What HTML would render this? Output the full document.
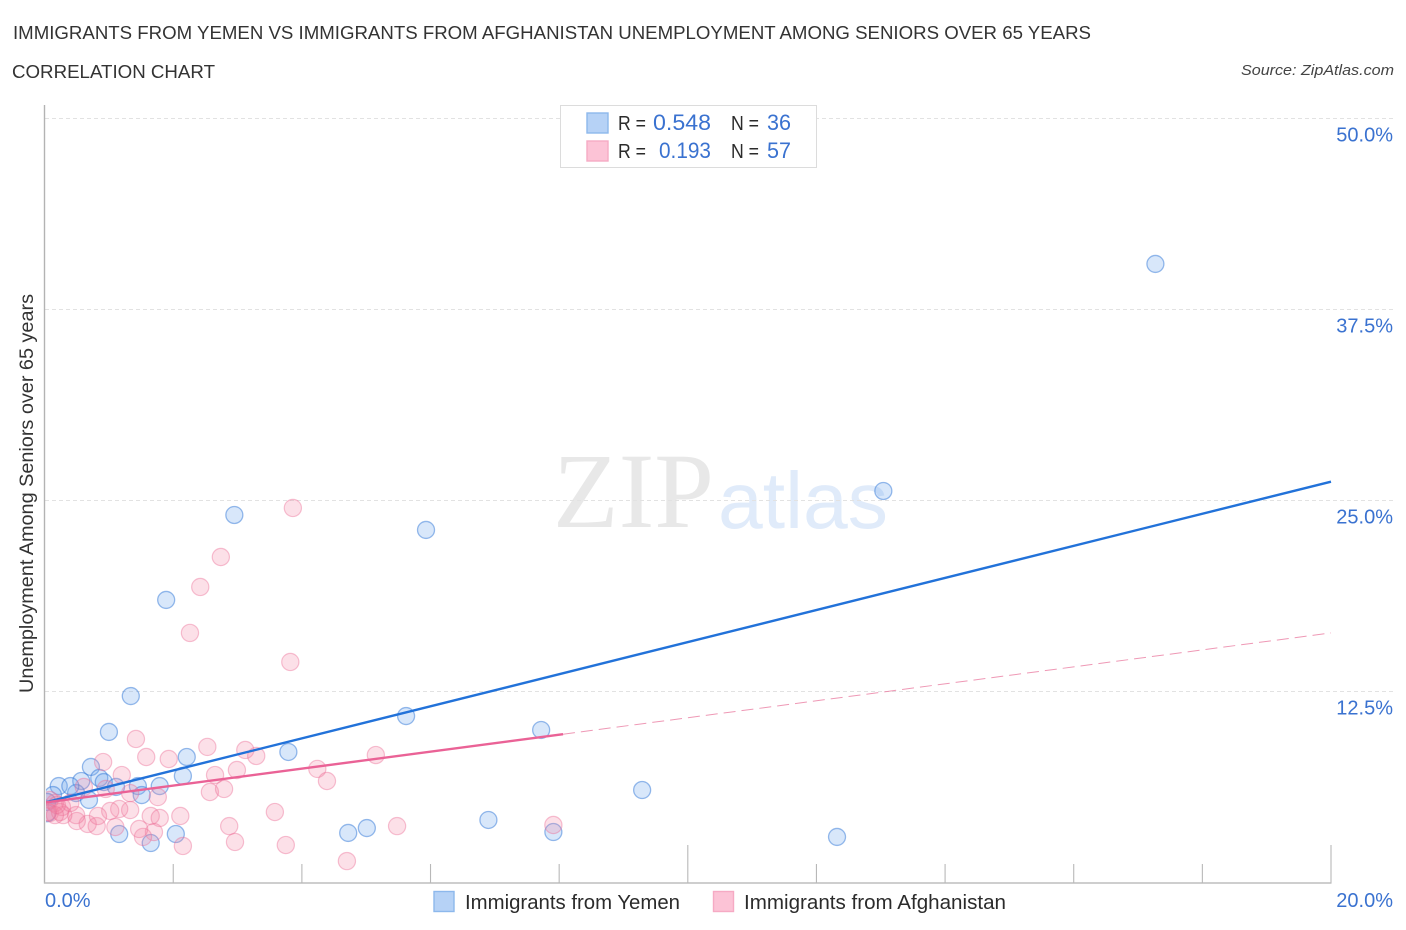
<!DOCTYPE html>
<html lang="en">
<head>
<meta charset="utf-8">
<title>Immigrants from Yemen vs Immigrants from Afghanistan Correlation Chart</title>
<style>
html,body{margin:0;padding:0;background:#fff;width:1406px;height:930px;overflow:hidden}
svg{display:block}
text{font-family:"Liberation Sans",sans-serif}
</style>
</head>
<body>
<svg id="chart" width="1406" height="930" viewBox="0 0 1406 930" xmlns="http://www.w3.org/2000/svg">
  <defs>
    <clipPath id="plot-clip"><rect x="46" y="100" width="1300" height="783"/></clipPath>
  </defs>
  <text x="13" y="39" font-size="18.5" fill="#333" textLength="1078" lengthAdjust="spacingAndGlyphs">IMMIGRANTS FROM YEMEN VS IMMIGRANTS FROM AFGHANISTAN UNEMPLOYMENT AMONG SENIORS OVER 65 YEARS</text>
  <text x="12" y="78" font-size="18.5" fill="#333" textLength="203" lengthAdjust="spacingAndGlyphs">CORRELATION CHART</text>
  <text x="1394" y="75" font-size="15" font-style="italic" fill="#444" text-anchor="end" textLength="153" lengthAdjust="spacingAndGlyphs">Source: ZipAtlas.com</text>

  <g id="watermark">
    <text x="553" y="527" font-size="107" fill="#e8e8e8" style="font-family:'Liberation Serif',serif" textLength="161" lengthAdjust="spacingAndGlyphs">ZIP</text>
    <text x="718" y="528" font-size="80" fill="#e0ebfa" style="font-family:'Liberation Sans',sans-serif" textLength="170" lengthAdjust="spacingAndGlyphs">atlas</text>
  </g>

  <g id="grid"></g>
  <g id="axes"></g>
  <g id="points" clip-path="url(#plot-clip)"></g>
  <g id="trends" clip-path="url(#plot-clip)"></g>
  <g id="labels"></g>

  <text transform="translate(33,493.5) rotate(-90)" font-size="19.5" fill="#333" text-anchor="middle" textLength="399" lengthAdjust="spacingAndGlyphs">Unemployment Among Seniors over 65 years</text>

  <g>
    <rect x="560.5" y="105.5" width="256" height="62" fill="#fff" stroke="#dcdcdc"/>
    <rect x="587" y="113" width="21" height="20" fill="#b6d2f6" stroke="#8db8ec" stroke-width="1.4"/>
    <rect x="587" y="141" width="21" height="20" fill="#fcc3d6" stroke="#f6aac4" stroke-width="1.4"/>
    <text x="618" y="130" font-size="20" fill="#2b2b2b" textLength="28" lengthAdjust="spacingAndGlyphs">R =</text>
    <text x="711" y="130" font-size="22" fill="#3a72d0" text-anchor="end" textLength="58" lengthAdjust="spacingAndGlyphs">0.548</text>
    <text x="731" y="130" font-size="20" fill="#2b2b2b" textLength="28" lengthAdjust="spacingAndGlyphs">N =</text>
    <text x="791" y="130" font-size="22" fill="#3a72d0" text-anchor="end" textLength="24" lengthAdjust="spacingAndGlyphs">36</text>
    <text x="618" y="158" font-size="20" fill="#2b2b2b" textLength="28" lengthAdjust="spacingAndGlyphs">R =</text>
    <text x="711" y="158" font-size="22" fill="#3a72d0" text-anchor="end" textLength="52" lengthAdjust="spacingAndGlyphs">0.193</text>
    <text x="731" y="158" font-size="20" fill="#2b2b2b" textLength="28" lengthAdjust="spacingAndGlyphs">N =</text>
    <text x="791" y="158" font-size="22" fill="#3a72d0" text-anchor="end" textLength="24" lengthAdjust="spacingAndGlyphs">57</text>
  </g>

  <g>
    <rect x="434" y="891.5" width="20" height="20" fill="#b6d2f6" stroke="#8db8ec" stroke-width="1.4"/>
    <text x="465" y="909" font-size="20" fill="#2b2b2b" textLength="215" lengthAdjust="spacingAndGlyphs">Immigrants from Yemen</text>
    <rect x="713.5" y="891.5" width="20" height="20" fill="#fcc3d6" stroke="#f6aac4" stroke-width="1.4"/>
    <text x="744" y="909" font-size="20" fill="#2b2b2b" textLength="262" lengthAdjust="spacingAndGlyphs">Immigrants from Afghanistan</text>
  </g>
</svg>
<script>
var yemenX = [17.27,13.04,2.95,5.93,1.89,1.34,1.00,5.62,7.72,3.79,2.21,2.15,9.29,1.79,1.45,1.51,0.72,0.85,0.92,1.11,0.57,0.49,0.22,0.40,0.13,0.04,0.04,0.69,1.16,1.65,2.04,4.72,5.01,6.90,7.91,12.32];
var yemenY = [40.45,25.59,24.02,23.04,18.46,12.17,9.82,10.86,9.95,8.51,8.18,6.94,6.02,6.28,6.28,5.69,7.53,6.81,6.54,6.22,6.61,5.82,6.28,6.28,5.69,5.24,4.50,5.37,3.14,2.55,3.14,3.21,3.53,4.06,3.27,2.95];
var afghanX = [3.86,2.74,2.42,2.26,3.82,1.42,0.91,1.58,1.93,2.53,3.12,3.29,5.15,1.20,2.65,2.99,4.24,4.39,2.57,2.79,1.76,1.33,0.95,0.61,1.33,1.16,1.02,2.11,1.65,1.79,3.58,2.87,2.96,3.75,2.15,1.70,1.53,1.47,1.10,0.81,0.67,0.83,0.50,0.49,0.29,0.08,0.27,0.16,0.08,4.70,5.48,7.91,0.24,0.40,0.16,0.19,0.05];
var afghanY = [24.48,21.27,19.31,16.30,14.40,9.36,7.85,8.18,8.05,8.84,8.64,8.25,8.31,7.00,7.00,7.33,7.40,6.61,5.89,6.09,5.56,5.82,6.09,6.22,4.71,4.78,4.65,4.32,4.32,4.19,4.58,3.66,2.62,2.42,2.36,3.27,2.95,3.47,3.60,3.66,3.80,4.32,3.99,4.38,4.38,4.52,4.91,5.17,5.37,1.37,3.66,3.73,4.58,5.17,4.38,5.04,4.58];
var yemenTrend = [5.2, 26.2];
var afghanTrend = [5.2, 16.3];
var afghanSolidEnd = 8.06;
var yTicks = [12.5, 25, 37.5, 50];
var yTickLabels = ["12.5%", "25.0%", "37.5%", "50.0%"];
var xTicks = [2, 4, 6, 8, 10, 12, 14, 16, 18, 20];
var majorXTicks = [10, 20];
var xEndLabels = ["0.0%", "20.0%"];

var NS = 'http://www.w3.org/2000/svg';
function sx(v) { return 44.6 + v * 64.32; }
function sy(v) { return 882 - v * 15.28; }
function make(parent, tag, attrs) {
  var el = document.createElementNS(NS, tag);
  for (var k in attrs) el.setAttribute(k, attrs[k]);
  document.getElementById(parent).appendChild(el);
  return el;
}

yTicks.forEach(function (t, i) {
  var g = make('grid', 'line', {x1: 45, x2: 1393, y1: sy(t) + 0.5, y2: sy(t) + 0.5, stroke: '#e2e2e2', 'stroke-width': 1, 'stroke-dasharray': '4 3'});
  
  
  var l = make('labels', 'text', {x: 1393, y: sy(t) + 23.5, 'font-size': 20, fill: '#3a72d0', 'text-anchor': 'end'});
  l.textContent = yTickLabels[i];
  
  
});

var yAxis = make('axes', 'line', {x1: 44.5, x2: 44.5, y1: 105, y2: 883.5, stroke: '#b3b3b3', 'stroke-width': 1.4});


var xAxis = make('axes', 'line', {x1: 44, x2: 1331.5, y1: 883, y2: 883, stroke: '#bdbdbd', 'stroke-width': 1.5});


xTicks.forEach(function (t) {
  var top = majorXTicks.indexOf(t) >= 0 ? 845 : 864;
  var tk = make('axes', 'line', {x1: sx(t), x2: sx(t), y1: top, y2: 883, stroke: '#b8b8b8', 'stroke-width': 1.1});
  
  
});

var xl0 = make('labels', 'text', {x: 45, y: 907, 'font-size': 20, fill: '#3a72d0'});
xl0.textContent = xEndLabels[0];


var xl1 = make('labels', 'text', {x: 1393, y: 907, 'font-size': 20, fill: '#3a72d0', 'text-anchor': 'end'});
xl1.textContent = xEndLabels[1];



yemenX.forEach(function (x, i) {
  var c = make('points', 'circle', {cx: sx(x), cy: sy(yemenY[i]), r: 8.5, fill: 'rgba(110,165,235,0.27)', stroke: 'rgba(50,120,215,0.5)', 'stroke-width': 1.3});
  
  
});
afghanX.forEach(function (x, i) {
  var c = make('points', 'circle', {cx: sx(x), cy: sy(afghanY[i]), r: 8.6, fill: 'rgba(245,130,165,0.25)', stroke: 'rgba(235,110,150,0.42)', 'stroke-width': 1.2});
  
  
});

function trendAt(tr, x) { return tr[0] + (tr[1] - tr[0]) * x / 20; }
var dash = make('trends', 'line', {x1: sx(afghanSolidEnd), y1: sy(trendAt(afghanTrend, afghanSolidEnd)), x2: sx(20), y2: sy(afghanTrend[1]), stroke: '#eb7fa3', 'stroke-width': 1, 'stroke-dasharray': '12 6', opacity: 0.8});


var blue = make('trends', 'line', {x1: sx(0), y1: sy(yemenTrend[0]), x2: sx(20), y2: sy(yemenTrend[1]), stroke: '#2272d9', 'stroke-width': 2.4});


var pink = make('trends', 'line', {x1: sx(0), y1: sy(afghanTrend[0]), x2: sx(afghanSolidEnd), y2: sy(trendAt(afghanTrend, afghanSolidEnd)), stroke: '#ea6296', 'stroke-width': 2.4});


</script>
</body>
</html>
